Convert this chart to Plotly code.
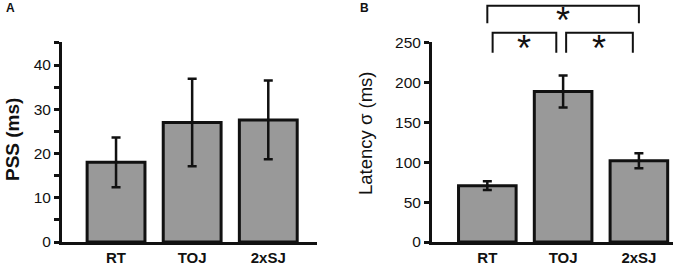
import plotly.graph_objects as go

categories = ["RT", "TOJ", "2xSJ"]
pss_mean = [18.0, 27.0, 27.6]
pss_err = [5.6, 9.9, 8.9]
lat_mean = [70.5, 188.5, 101.8]
lat_err = [5.5, 20.0, 9.5]

# significance brackets for panel B: (x_left, x_right, y_bar, y_leg)
brackets = [(0.0, 2.0, 296, 274), (0.07, 0.91, 262, 237), (1.04, 1.92, 262, 237)]
stars = [(1.0, 277), (0.49, 242), (1.48, 242)]

W, H = 680, 268
domA = [62 / W, 317 / W]
domB = [432 / W, 673 / W]
domY = [(H - 242) / H, (H - 42) / H]
rxA = [-0.71, 2.64]
rxB = [-0.73, 2.45]
ryA = [0, 45.2]
ryB = [0, 250.5]

xi = list(range(len(categories)))
bar_fill = "#999999"
edge = "#111111"
FONT = "Liberation Sans, Arial"

fig = go.Figure()
fig.add_trace(go.Bar(x=xi, y=pss_mean, width=0.76, marker=dict(color=bar_fill, line=dict(color=edge, width=3)),
                     error_y=dict(type="data", array=pss_err, color=edge, thickness=2.5, width=4.5),
                     xaxis="x", yaxis="y", showlegend=False))
fig.add_trace(go.Bar(x=xi, y=lat_mean, width=0.76, marker=dict(color=bar_fill, line=dict(color=edge, width=3)),
                     error_y=dict(type="data", array=lat_err, color=edge, thickness=2.5, width=4.5),
                     xaxis="x2", yaxis="y2", showlegend=False))

tickfont = dict(family=FONT, size=15.5, color="#111111")
catfont = dict(family=FONT, size=15, color="#111111")

fig.update_layout(
    width=W, height=H, margin=dict(l=0, r=0, t=0, b=0),
    paper_bgcolor="white", plot_bgcolor="white",
    xaxis=dict(domain=domA, range=rxA, anchor="y", tickvals=xi, ticktext=["<b>%s</b>" % c for c in categories],
               showline=True, linecolor=edge, linewidth=3, ticks="", showgrid=False, zeroline=False,
               tickfont=catfont, fixedrange=True, automargin=False),
    yaxis=dict(domain=domY, range=ryA, anchor="x", tickvals=[0, 10, 20, 30, 40], showline=True, linecolor=edge,
               linewidth=3, ticks="outside", ticklen=5, tickwidth=3, tickcolor=edge, showgrid=False, zeroline=False,
               minor=dict(tickvals=[5, 15, 25, 35, 45], ticks="outside", ticklen=5, tickwidth=3, tickcolor=edge, showgrid=False),
               tickfont=tickfont, automargin=False, fixedrange=True),
    xaxis2=dict(domain=domB, range=rxB, anchor="y2", tickvals=xi, ticktext=["<b>%s</b>" % c for c in categories],
                showline=True, linecolor=edge, linewidth=3, ticks="", showgrid=False, zeroline=False,
                tickfont=catfont, fixedrange=True, automargin=False),
    yaxis2=dict(domain=domY, range=ryB, anchor="x2", tickvals=[0, 50, 100, 150, 200, 250], showline=True,
                linecolor=edge, linewidth=3, ticks="outside", ticklen=5, tickwidth=3, tickcolor=edge, showgrid=False,
                zeroline=False, tickfont=tickfont, automargin=False, fixedrange=True),
)

# axis titles as annotations
fig.add_annotation(x=12 / W, y=1 - 140 / H, xref="paper", yref="paper", text="<b>PSS (ms)</b>", textangle=-90,
                   showarrow=False, font=dict(family=FONT, size=19, color=edge), xanchor="center", yanchor="middle")
fig.add_annotation(x=365 / W, y=1 - 134 / H, xref="paper", yref="paper", text="Latency σ (ms)", textangle=-90,
                   showarrow=False, font=dict(family=FONT, size=18.5, color=edge), xanchor="center", yanchor="middle")


def px_x(dom, rng, v):
    return dom[0] + (v - rng[0]) / (rng[1] - rng[0]) * (dom[1] - dom[0])


def px_y(v):
    return domY[0] + (v - ryB[0]) / (ryB[1] - ryB[0]) * (domY[1] - domY[0])


for xl, xr, yb, yl in brackets:
    x0 = px_x(domB, rxB, xl)
    x1 = px_x(domB, rxB, xr)
    fig.add_shape(type="path", xref="paper", yref="paper",
                  path="M %f,%f L %f,%f L %f,%f L %f,%f" % (x0, px_y(yl), x0, px_y(yb), x1, px_y(yb), x1, px_y(yl)),
                  line=dict(color=edge, width=2))
for xs, ys in stars:
    fig.add_annotation(x=px_x(domB, rxB, xs), y=px_y(ys), xref="paper", yref="paper", text="*", showarrow=False,
                       font=dict(family=FONT, size=36, color=edge), yanchor="middle", xanchor="center")

fig.add_annotation(x=4 / W, y=1 - 8 / H, xref="paper", yref="paper", text="<b>A</b>", showarrow=False,
                   font=dict(family=FONT, size=12, color=edge), xanchor="left", yanchor="middle")
fig.add_annotation(x=358 / W, y=1 - 8 / H, xref="paper", yref="paper", text="<b>B</b>", showarrow=False,
                   font=dict(family=FONT, size=12, color=edge), xanchor="left", yanchor="middle")

fig.write_html("out.html", config={"displayModeBar": False},
               post_script="document.body.style.margin='0';document.body.style.overflow='hidden';")
